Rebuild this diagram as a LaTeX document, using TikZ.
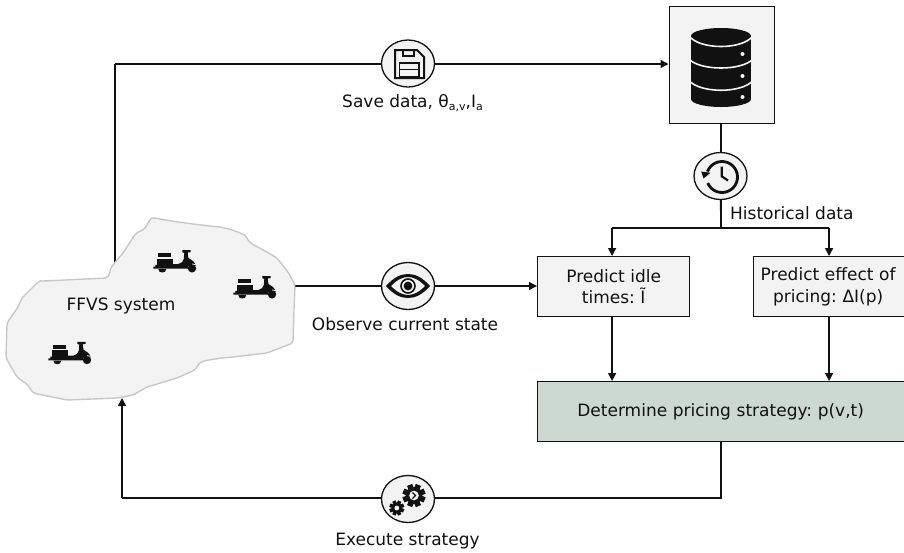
\documentclass[tikz,border=0pt]{standalone}
\usepackage{fontspec}
\setmainfont{DejaVu Sans}
\usetikzlibrary{arrows.meta,shapes.geometric}
\definecolor{panel}{HTML}{F3F3F3}
\definecolor{sage}{HTML}{CCD9D3}
\definecolor{blobline}{HTML}{C8C8C8}
\definecolor{ink}{HTML}{111111}
\tikzset{
  every node/.style={text=ink,font=\fontsize{17}{21.5}\selectfont\frenchspacing},
  conn/.style={draw=ink,line width=1.4pt},
  flow/.style={conn,-{Triangle[length=8pt,width=8pt]}},
  boxed/.style={draw=ink,line width=1.3pt,fill=panel,inner sep=0pt,align=center,anchor=north west},
  disc/.style={draw=ink,line width=1.3pt,fill=panel,ellipse,minimum width=53pt,minimum height=47pt,inner sep=0pt},
  lab/.style={inner sep=0pt},
  pics/scooter/.style={code={
    \fill[ink] (4.3,3.3) rectangle (18,7.3);
    \fill[ink] (3.3,8.7) rectangle (19.3,15.4);
    \fill[ink] (2,15) -- (19.3,14) -- (25,14) .. controls (28,13) and (30,12) .. (30.5,9) -- (31,3) -- (29,2.2) -- (29,0.2) -- (37.4,0.2) -- (37.2,2.2) -- (34.4,2.5) -- (35.2,8)
       .. controls (38,9.5) and (41,11.5) .. (42.8,15.5) -- (35,16) -- (35,18.6) -- (0,18.6) -- (0,16.6) -- (2,16.6) -- cycle;
    \fill[ink] (38.7,18.3) circle (4.2pt);
    \fill[panel] (38.7,13.6) -- (42.6,14.2) -- (43.5,15.2) -- (38.7,14.4) -- cycle;
    \fill[ink] (5,19) -- (13,19) .. controls (13,21.5) and (11,22.5) .. (9,22.5) .. controls (7,22.5) and (5,21.5) .. (5,19) -- cycle;
  }}
}
\newcommand{\cog}[4]{% x, y, outer radius, inner radius
  \fill[ink] (#1,#2) circle (#4pt);
  \foreach \a in {0,45,...,315}
    \fill[ink,rotate around={\a+22.5:(#1,#2)}] (#1-#3*0.24,#2) rectangle (#1+#3*0.24,#2+#3);
}
\begin{document}
\begin{tikzpicture}[x=1pt,y=-1pt]
\useasboundingbox (0,0) rectangle (904,552);
\fill[white] (0,0) rectangle (904,552);

% named free ends
\coordinate (blobtop) at (115,268);
\coordinate (blobright) at (295,286);
\coordinate (blobbottom) at (122,398);
\coordinate (corner1) at (115,64);
\coordinate (corner2) at (721,498);
\coordinate (corner3) at (122,498);
\coordinate (split) at (721,228);
\coordinate (splitl) at (612.1,228);
\coordinate (splitr) at (829.1,228);

\node[boxed,minimum width=105pt,minimum height=117pt] (db) at (668.5,6) {};
\node[boxed,minimum width=152pt,minimum height=60pt] (idle) at (537,256) {Predict idle\\times: Ĩ};
\node[boxed,minimum width=153pt,minimum height=60pt,text width=150pt] (effect) at (753,256) {\hspace*{-4pt}Predict effect of\\\hspace*{-4pt}pricing: ΔI(p)};
\node[boxed,minimum width=368pt,minimum height=59.5pt,fill=sage,text width=360pt] (strategy) at (537,381) {\hspace*{-2pt}Determine pricing strategy: p(v,t)};

\draw[conn] (blobtop) -- (corner1);
\draw[flow] (corner1) -- (db.west |- corner1);
\draw[conn] (db.south -| split) -- (split);
\draw[conn] (splitl) -- (splitr);
\draw[flow] (splitl) -- (idle.north -| splitl);
\draw[flow] (splitr) -- (effect.north -| splitr);
\draw[flow] (blobright) -- (idle.west |- blobright);
\draw[flow] (idle.south -| splitl) -- (strategy.north -| splitl);
\draw[flow] (effect.south -| splitr) -- (strategy.north -| splitr);
\draw[conn] (strategy.south -| corner2) -- (corner2) -- (corner3);
\draw[flow] (corner3) -- (blobbottom);

% region
\draw[blobline,line width=1.4pt,fill=panel,line join=round,rounded corners=3pt]
  (107,278) .. controls (110,274) and (110,270) .. (112,266) -- (123,253) -- (136,233) -- (143,230)
  .. controls (147,226) and (150,218) .. (155,218) .. controls (175,222) and (200,225) .. (220,227)
  .. controls (230,229) and (238,232) .. (245,235) -- (250,243) -- (267,252) -- (277,258) -- (288,272) -- (295,285)
  -- (294,310) -- (293,343) -- (267,353) -- (233,357) .. controls (220,358) and (208,360) .. (200,362)
  -- (195,370) -- (177,378) -- (147,387) -- (133,395) -- (117,398) -- (67,400) -- (33,393) -- (28,385) -- (17,377)
  -- (6,358) -- (7,323) -- (18,307) -- (22,298) -- (38,282) .. controls (40,281) and (42,281) .. (44,281) -- cycle;
\node[lab] (ffvs) at (121,305.5) {FFVS system};
\pic at (153.3,250) {scooter};
\pic at (233.3,276) {scooter};
\pic at (48.3,341.7) {scooter};

% database icon
\fill[ink] (721,36) ellipse[x radius=30,y radius=8];
\fill[ink] (691,36) rectangle (751,99);
\fill[ink] (721,99) ellipse[x radius=30,y radius=8];
\foreach \yy/\dd in {37/13,60/11,81.5/12}
  \draw[panel,line width=1.6pt] (689,\yy-1) .. controls (700,\yy+\dd) and (742,\yy+\dd) .. (753,\yy-1);
\foreach \yy in {54,76,97}
  \fill[white] (742.5,\yy) circle (2pt);

% save
\node[disc] (save) at (408,63.5) {};
\draw[ink,line width=2pt,line join=miter] (395,50) -- (417,50) -- (424,57) -- (424,78) -- (395,78) -- cycle;
\draw[ink,line width=1.6pt] (403,50) rectangle (414,56);
\draw[ink,line width=1.6pt] (399.5,63) rectangle (419,76.5);
\draw[ink,line width=1.6pt] (399.5,69.5) -- (419,69.5);
\node[lab] (savet) at (412.5,103.5) {Save data, θ{\fontsize{11}{11}\selectfont\raisebox{-3pt}{a,v}},I{\fontsize{11}{11}\selectfont\raisebox{-3pt}{a}}};

% history
\node[disc] (hist) at (720.5,176) {};
\draw[ink,line width=2.8pt] (722,177) ++(200:15.5) arc[start angle=200,end angle=517,radius=15.5];
\fill[ink] (701.2,171.5) -- (710.5,172.8) -- (703.5,178.5) -- cycle;
\draw[ink,line width=2.2pt] (721.7,166.5) -- (721.7,176.3) -- (728,180.5);
\draw[conn] (hist.south) -- (split);
\node[lab,anchor=west] (histt) at (730,213) {Historical data};

% eye
\node[disc] (eye) at (408,286) {};
\fill[ink,even odd rule] (386,286) .. controls (394,277) and (401,274) .. (408,274) .. controls (415,274) and (422,277) .. (430,286)
  .. controls (422,295) and (415,298) .. (408,298) .. controls (401,298) and (394,295) .. (386,286) -- cycle
  (391,286) .. controls (397,279.5) and (403,277) .. (408,277) .. controls (413,277) and (419,279.5) .. (425,286)
  .. controls (419,292.5) and (413,295) .. (408,295) .. controls (403,295) and (397,292.5) .. (391,286) -- cycle;
\draw[ink,line width=1.6pt] (408,286) circle (7pt);
\fill[ink] (408,286) circle (4.4pt);
\node[lab] (eyet) at (405,324) {Observe current state};

% gears
\node[disc] (gears) at (408,499) {};
\cog{414}{495.5}{11.5}{8.4}
\fill[panel] (414,495.5) circle (4.8pt);
\draw[ink,line width=1.2pt] (412.5,492.5) -- (415.5,495.5) -- (412.5,498.5);
\cog{396.8}{508}{7.5}{5.5}
\fill[panel] (396.8,508) circle (2.4pt);
\node[lab] (gearst) at (407.5,541.5) {Execute strategy};
\end{tikzpicture}
\end{document}
